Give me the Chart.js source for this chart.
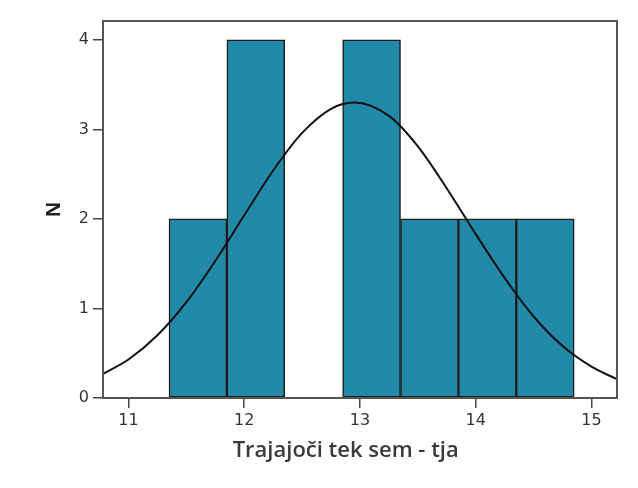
<!DOCTYPE html>
<html>
<head>
<meta charset="utf-8">
<script src="https://cdn.jsdelivr.net/npm/chart.js@4/dist/chart.umd.min.js"></script>
<style>
html, body { margin: 0; padding: 0; background: #fff; }
</style>
</head>
<body>
<canvas id="ChartElem" width="638" height="488"></canvas>
<script>
// histogram bins (midpoints, width 0.5) and counts
var binMids = [11.6, 12.1, 12.6, 13.1, 13.6, 14.1, 14.6];
var binCounts = [2, 4, 0, 4, 2, 2, 2];

// normal curve
var curveX = [10.78, 11.0, 11.25, 11.5, 11.75, 12.0, 12.25, 12.5, 12.75, 12.95, 13.25, 13.5, 13.75, 14.0, 14.25, 14.5, 14.75, 15.0, 15.22];
var curveY = [0.27, 0.43, 0.70, 1.07, 1.53, 2.04, 2.54, 2.96, 3.23, 3.30, 3.15, 2.81, 2.34, 1.83, 1.34, 0.91, 0.58, 0.35, 0.21];

var xTicks = [11, 12, 13, 14, 15];
var yTicks = [0, 1, 2, 3, 4];
var xLabel = "Trajajoči tek sem - tja";
var yLabel = "N";

var barData = [];
for (let i = 0; i < binMids.length; i++) {
    barData.push({ x: binMids[i], y: binCounts[i] });
}
var curveData = [];
for (let i = 0; i < curveX.length; i++) {
    curveData.push({ x: curveX[i], y: curveY[i] });
}

// box around the plot area
var framePlugin = {
    id: 'frame',
    afterDatasetsDraw: function (chart) {
        var a = chart.chartArea, ctx = chart.ctx;
        ctx.save();
        ctx.strokeStyle = '#555';
        ctx.lineWidth = 2;
        ctx.strokeRect(a.left, a.top, a.right - a.left, a.bottom - a.top);
        ctx.restore();
    }
};

var tickFont = { family: 'DejaVu Sans', size: 16 };

new Chart(document.getElementById('ChartElem').getContext('2d'), {
    type: 'bar',
    data: {
        datasets: [
            {
                type: 'line',
                data: curveData,
                borderColor: '#111',
                borderWidth: 2,
                pointRadius: 0,
                cubicInterpolationMode: 'monotone',
                fill: false,
                order: 0
            },
            {
                type: 'bar',
                data: barData,
                backgroundColor: '#2389a9',
                borderColor: '#1c1c1c',
                borderWidth: 1.5,
                borderSkipped: false,
                barPercentage: 1,
                categoryPercentage: 1,
                order: 1
            }
        ]
    },
    options: {
        responsive: false,
        animation: false,
        layout: { padding: { left: 0, right: 21, top: 21, bottom: 0 } },
        plugins: { legend: { display: false }, tooltip: { enabled: false } },
        scales: {
            x: {
                type: 'linear',
                min: 10.78,
                max: 15.22,
                offset: false,
                afterBuildTicks: function (axis) {
                    axis.ticks = xTicks.map(function (v) { return { value: v }; });
                },
                afterFit: function (axis) { axis.height = 90; },
                grid: { offset: false, drawOnChartArea: false, drawTicks: true, tickLength: 10, color: '#444', lineWidth: 1.5 },
                border: { display: true, color: '#555', width: 2 },
                ticks: { font: tickFont, color: '#333', padding: 3, maxRotation: 0 },
                title: {
                    display: true,
                    text: xLabel + '     ',
                    font: { family: 'Open Sans', size: 22, weight: '600' },
                    color: '#3a3a3a',
                    padding: { top: 0, bottom: 24 }
                }
            },
            y: {
                min: 0,
                max: 4.21,
                afterBuildTicks: function (axis) {
                    axis.ticks = yTicks.map(function (v) { return { value: v }; });
                },
                afterFit: function (axis) { axis.width = 103; },
                grid: { drawOnChartArea: false, drawTicks: true, tickLength: 10, color: '#444', lineWidth: 1.5 },
                border: { display: true, color: '#555', width: 2 },
                ticks: { font: tickFont, color: '#333', padding: 4 },
                title: {
                    display: true,
                    text: yLabel,
                    font: { family: 'Open Sans', size: 19, weight: 'bold' },
                    color: '#222',
                    padding: { top: 43, bottom: 0 }
                }
            }
        }
    },
    plugins: [framePlugin]
});
</script>
</body>
</html>
